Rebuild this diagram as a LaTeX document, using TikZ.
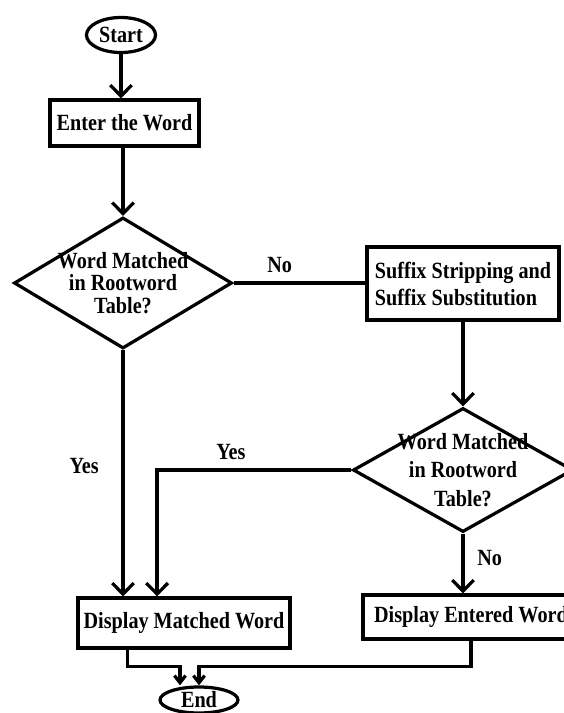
\documentclass[tikz,border=0pt]{standalone}
\usepackage{fontspec}
\setmainfont[FakeStretch=0.87]{Liberation Serif}
\usetikzlibrary{arrows.meta,positioning,calc,shapes.geometric}
\tikzset{
  terminal/.style={draw, ellipse, line width=2.3pt, inner sep=0pt,
    font=\bfseries\fontsize{16.5}{18}\selectfont},
  process/.style={draw, rectangle, line width=2.3pt, inner sep=0pt,
    font=\bfseries\fontsize{16.5}{19.2}\selectfont},
  decision/.style={draw, diamond, aspect=1.66, line width=2.3pt, inner sep=-6pt, align=center,
    font=\bfseries\fontsize{16.5}{16}\selectfont},
  arrow/.style={-{Straight Barb[length=2.75mm,width=5.4mm]}, line width=2.3pt},
  endarrow/.style={-{Straight Barb[length=1.8mm,width=2.8mm]}, line width=2.3pt},
  link/.style={line width=2.3pt},
  answer/.style={font=\bfseries\fontsize{16.5}{18}\selectfont}
}
\begin{document}
\begin{tikzpicture}[x=0.025cm,y=-0.025cm]
  \useasboundingbox (0,0) rectangle (564,713);
  \node[terminal, minimum width=17.25mm, minimum height=8.75mm] (start) at (121,35) {Start};
  \node[process, minimum width=37.25mm, minimum height=11.5mm] (enter) at (124.5,123) {Enter the Word};
  \node[decision, minimum width=54.5mm, minimum height=32.75mm] (match1) at (123,283) {Word Matched\\in Rootword\\Table?};
  \node[process, minimum width=48mm, minimum height=18.25mm, align=left] (suffix) at (463,283.5) {Suffix Stripping and\\Suffix Substitution};
  \node[decision, aspect=1.77, inner sep=-9pt, minimum width=55mm, minimum height=31mm,
    font=\bfseries\fontsize{16.5}{20.5}\selectfont] (match2) at (463,470) {Word Matched\\in Rootword\\Table?};
  \node[process, minimum width=53mm, minimum height=12.5mm] (shown) at (184,623) {Display Matched Word};
  \node[process, minimum width=54mm, minimum height=11mm] (entered) at (471,617) {Display Entered Word};
  \node[terminal, minimum width=19.5mm, minimum height=6.5mm] (stop) at (199,700) {End};

  \draw[arrow] (start) -- (start |- enter.north);
  \draw[arrow] (match1.north |- enter.south) -- (match1.north);
  \draw[link] (match1.east) -- node[answer, above=1mm, pos=0.35] {No} (match1.east -| suffix.west);
  \draw[arrow] (suffix) -- (match2.north);
  \draw[arrow] (match1.south) -- node[answer, left=4.5mm, pos=0.47] {Yes} (match1.south |- shown.north);
  \draw[arrow] (match2.west) -| node[answer, above=1mm, pos=0.31] {Yes} ($(shown.north west)!0.375!(shown.north east)$);
  \draw[arrow] (match2.south) -- node[answer, right=2mm, pos=0.41] {No} (match2.south |- entered.north);
  \draw[endarrow] ($(shown.south west)!0.236!(shown.south east)$) |- ($(stop.north)+(-19,-19)$) -- ($(stop.north)+(-19,0)$);
  \draw[endarrow] (entered.south) |- ($(stop.north)+(0,-19)$) -- (stop.north);
\end{tikzpicture}
\end{document}
